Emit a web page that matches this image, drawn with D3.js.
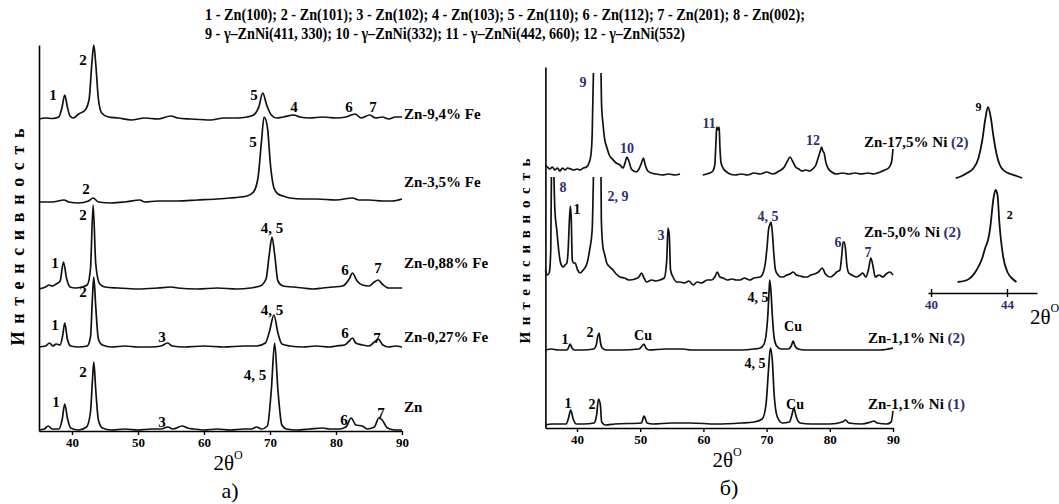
<!DOCTYPE html>
<html><head><meta charset="utf-8">
<script src="https://cdn.jsdelivr.net/npm/d3@7"></script>
<style>
body{margin:0;background:#fff}
svg{display:block}
text{font-family:"Liberation Serif","Times New Roman",serif}
</style>
</head><body>
<svg id="c" width="1059" height="504"></svg>
<script>
// ---------- DATA ----------
const titleLines = [
  "1 - Zn(100); 2 - Zn(101); 3 - Zn(102); 4 - Zn(103); 5 - Zn(110); 6 - Zn(112); 7 - Zn(201); 8 - Zn(002);",
  "9 - γ–ZnNi(411, 330); 10 -  γ–ZnNi(332); 11 - γ–ZnNi(442, 660); 12 - γ–ZnNi(552)"
];
const xTicks = [40, 50, 60, 70, 80, 90];
const insetTicks = [40, 44];
const yLabel = "Интенсивность";
const xLabel = "2θ";
const panelLetters = ["а)", "б)"];

// left panel (Zn-Fe)
const leftNames = ["Zn-9,4% Fe", "Zn-3,5% Fe", "Zn-0,88% Fe", "Zn-0,27% Fe", "Zn"];
const leftOffsets = [312, 229, 142, 84, 1];
const znFe94 = [[35,0],[36,1],[37,0.5],[38,2],[38.5,12],[38.9,24],[39.3,12],[39.7,3],[40.2,1],[41,5],[42,9],[42.6,20],[43,55],[43.3,74],[43.6,55],[44,20],[44.5,6],[45.5,2],[47,1],[49,-1],[51,1],[53,0],[55,3],[56,1],[58,0],[61,-1],[63,1],[65,1],[66.5,2],[67.5,4],[68.3,12],[68.9,26],[69.5,14],[70.2,4],[71,1],[72,2],[73.6,4],[74.5,2],[76,1],[78,2],[80,1],[81.5,2],[82.9,5],[83.8,1],[85.1,4],[86,1],[87,2],[88,0],[89,2],[90,2]];
const znFe35 = [[35,0],[37,0],[38.8,2],[39.5,0],[41,-1],[42.5,1],[43.2,4],[44,0],[46,-1],[48,0],[50.3,2],[51,0],[53,1],[56,1],[59,2],[62,3],[64,4],[65.5,5],[66.5,6],[67.5,10],[68.2,25],[68.7,60],[69.1,85],[69.6,75],[70.1,35],[70.6,14],[71.2,8],[72,6],[73,4],[75,3],[77,3],[80,2],[82.5,4],[83.5,2],[85,2],[87,1],[88.5,1],[90,3]];
const znFe088 = [[35,0],[36,2],[36.5,4],[37,3],[37.6,5],[38.2,8],[38.7,27],[39.2,10],[39.7,2],[40.5,1],[41.5,2],[42.3,4],[42.8,20],[43.2,84],[43.6,25],[44.2,5],[45,2],[47,1],[50,0],[53,1],[55,2],[56,1],[59,0],[62,1],[65,0],[67,1],[68.5,3],[69.4,10],[69.9,35],[70.3,52],[70.7,35],[71.2,8],[72,3],[73.5,2],[75,1],[76.5,0],[78,1],[79.5,2],[81,3],[82,10],[82.5,16],[83.2,8],[84,4],[85,3],[85.8,7],[86.4,9],[87,5],[88,1],[89,1],[90,1]];
const znFe027 = [[35,0],[36,1],[36.6,4],[37.1,1],[37.6,3],[38.2,2],[38.6,12],[38.9,24],[39.3,8],[39.8,1],[41,0],[42.3,1],[42.8,10],[43.1,50],[43.3,70],[43.6,40],[44,8],[44.6,2],[46,0],[48,1],[50,0],[52,0],[53.5,1],[54.5,4],[55.2,1],[57,0],[60,1],[63,0],[66,1],[68,1],[69.3,4],[69.9,15],[70.6,32],[71.2,14],[71.8,3],[73,1],[75,0],[77,1],[79,0],[80,1],[81.3,2],[82,6],[82.5,9],[83,4],[84,2],[85,1],[85.8,5],[86.4,8],[87.1,2],[88,0],[89,1],[90,0]];
const znPure = [[35,0],[35.8,1],[36.4,4],[37,1],[38,1],[38.5,10],[38.9,26],[39.3,12],[39.8,2],[41,0],[42.2,3],[42.8,18],[43.1,50],[43.3,68],[43.6,40],[44,10],[44.6,2],[46,0],[48,1],[50,0],[52,1],[53.5,1],[54.5,3],[55.3,1],[56.7,4],[57.5,2],[58.5,1],[60,0],[62,1],[64,0],[66,1],[67.2,1],[68,3],[68.7,1],[69.6,4],[70.2,40],[70.7,87],[71.2,40],[71.8,5],[72.5,1],[74,0],[76,1],[78,2],[79,1],[80.5,1],[81.5,3],[82.3,12],[83,5],[84,4],[84.7,1],[85.8,3],[86.5,12],[87,10],[87.8,2],[89,0],[90,0]];
const leftSeries = [znFe94, znFe35, znFe088, znFe027, znPure];
const leftPeakLabels = [
  [37.12,336,"1"],[41.67,371,"2"],[67.58,336,"5"],[73.64,324,"4"],[81.97,324,"6"],[85.61,324,"7"],
  [42.12,242,"2"],[67.42,289,"5"],
  [41.67,216,"2"],[70.30,203,"4, 5"],[37.42,168,"1"],[81.36,161,"6"],[86.36,163,"7"],
  [41.67,139,"2"],[37.42,106,"1"],[53.64,94,"3"],[70.30,121,"4, 5"],[81.36,98,"6"],[86.21,93,"7"],
  [41.67,59,"2"],[67.73,56,"4, 5"],[37.58,29,"1"],[53.64,9,"3"],[81.21,11,"6"],[86.82,18,"7"]
];
const leftNameY = [317, 249, 168, 94, 24];

// right panel (Zn-Ni)
const rightNames = [["Zn-17,5% Ni ","(2)"],["Zn-5,0% Ni ","(2)"],["Zn-1,1% Ni ","(2)"],["Zn-1,1% Ni ","(1)"]];
const rightOffsets = [253, 148, 78, 3];
const znNi175 = [[35,10],[35.3,8],[35.7,6],[36.1,8],[36.5,5],[36.9,7],[37.3,4],[37.7,7],[38.1,5],[38.5,7],[39,6],[39.5,5],[40,6],[40.5,5],[41,7],[41.5,8],[41.9,12],[42.2,20],[42.4,40],[42.6,102],null,[43.8,102],[43.9,68],[44.1,52],[44.4,35],[44.7,28],[45.1,20],[45.6,16],[46.2,12],[46.8,10],[47.3,7],[47.6,12],[47.9,18],[48.2,14],[48.6,6],[49,4],[49.4,3],[49.8,6],[50.2,12],[50.5,17],[50.8,10],[51.2,4],[51.8,2],[52.5,1],[53.5,0],[54.5,1],[55.5,0],[56.3,1],null,[59.9,0],[60.5,1],[61,2],[61.5,4],[61.8,10],[62.0,35],[62.1,48],[62.3,45],[62.5,48],[62.6,30],[62.8,12],[63.2,6],[63.7,3],[64.2,1],[65,0],[66,1],[67,0],[68,2],[69,1],[70,3],[71,1],[72,4],[72.8,8],[73.3,14],[73.7,18],[74.1,14],[74.6,8],[75.1,6],[75.6,4],[76.2,5],[76.8,4],[77.3,6],[77.8,10],[78.2,18],[78.5,24],[78.7,28],[78.9,24],[79.1,22],[79.4,12],[79.8,6],[80.3,3],[81,1],[82,2],[83,1],[84,2],[85,1],[86,2],[87,1],[88,3],[88.7,5],[89.3,7],[89.6,10],[89.8,14],[90,26]];
const znNi50 = [[35,10],[35.3,5],[35.6,7],[35.85,30],[35.95,103],null,[36.35,103],[36.5,70],[36.8,50],[37.1,30],[37.3,20],[37.6,14],[37.8,13],[38.1,15],[38.4,17],[38.6,30],[38.8,60],[38.95,74],[39.1,60],[39.25,20],[39.5,17],[39.7,17],[40.1,10],[40.5,7],[41,10],[41.6,17],[42.0,30],[42.4,50],[42.6,103],null,[43.8,103],[43.85,60],[44.1,33],[44.4,25],[44.7,17],[45.2,13],[45.7,10],[46.2,6],[46.8,3],[47.5,2],[48.3,0],[49.2,1],[49.8,3],[50.2,7],[50.6,2],[51,-2],[51.8,0],[52.5,-1],[53.1,0],[53.8,2],[54.2,20],[54.4,52],[54.6,45],[54.8,10],[55.2,3],[55.8,-2],[56.3,-2],[57,-3],[57.7,-1],[58.4,-5],[59,-2],[59.7,-3],[60.6,0],[61.3,0],[61.8,3],[62.2,8],[62.6,3],[63.1,2],[63.8,0],[64.5,1],[65.2,0],[65.8,0],[66.5,2],[67.3,0],[68,2],[69,3],[69.5,8],[69.8,17],[70.1,35],[70.3,50],[70.5,55],[70.7,58],[70.9,48],[71.1,30],[71.4,10],[71.8,5],[72.3,3],[72.6,3],[73.2,5],[73.7,6],[74.2,8],[74.7,5],[75.3,4],[76,3],[76.4,3],[77,5],[77.6,6],[78.2,8],[78.8,12],[79.3,6],[80.1,3],[80.6,5],[81.1,8],[81.6,10],[81.9,25],[82.1,38],[82.3,38],[82.5,30],[82.7,15],[83,7],[83.5,5],[84.3,3],[84.8,5],[85.2,7],[85.7,3],[86.1,10],[86.5,22],[86.8,15],[87.2,3],[87.8,5],[88.4,3],[88.9,6],[89.5,8],[90,5]];
const znNi11b = [[35,0],[36,1],[37,0],[38.4,0],[38.7,3],[38.9,6],[39.2,2],[39.6,0],[41,0],[42.6,1],[43.0,4],[43.3,14],[43.5,17],[43.7,8],[44,2],[44.6,0],[47,0],[49.8,1],[50.3,4],[50.6,6],[50.9,2],[51.4,0],[54,1],[56.8,1],[58,0],[62,0],[66,0],[68,1],[69,2],[69.6,6],[69.9,14],[70.2,35],[70.4,60],[70.5,70],[70.7,58],[70.9,35],[71.2,12],[71.6,4],[72.3,1],[73.4,1],[73.9,4],[74.2,9],[74.5,4],[75,1],[76,0],[80,0],[85,0],[88,0],[90,2]];
const znNi11a = [[35,0],[36,1],[38.3,1],[38.7,8],[39,15],[39.4,6],[39.9,1],[41,1],[42.7,2],[43.1,10],[43.4,26],[43.7,20],[43.9,3],[44.5,0],[46,1],[50.2,2],[50.6,9],[51.1,2],[52,1],[55,2],[58,2],[62,1],[66,2],[68,3],[69.3,6],[69.9,20],[70.3,55],[70.6,77],[70.9,65],[71.2,30],[71.7,8],[72.5,2],[73.6,3],[74.0,10],[74.3,17],[74.7,8],[75.3,2],[77,1],[80,1],[82,3],[82.5,5],[83,2],[85,1],[86.5,3],[87,4],[87.5,2],[89,1],[89.7,3],[90,14]];
const rightSeries = [znNi175, znNi50, znNi11b, znNi11a];
const rightPeakLabels = [
  [40.95,346,"9",1],[47.91,280,"10",1],[60.89,305,"11",1],[77.34,288,"12",1],
  [37.78,241,"8",1],[40.0,219,"1",0],[46.49,232,"2, 9",1],[53.29,193,"3",1],[70.22,212,"4, 5",1],[81.30,186,"6",1],[86.04,176,"7",1],
  [68.64,131,"4, 5",0],[74.18,102,"Cu",0],[38.1,89,"1",0],[42.06,96,"2",0],[50.44,93,"Cu",0],
  [68.16,65,"4, 5",0],[38.58,25,"1",0],[42.37,24,"2",0],[74.49,24,"Cu",0]
];
const rightNameY = [286, 196, 90, 24];

// inset (peaks 9 and 2)
const insetOffsets = [115, 11];
const insetPeak9 = [[41.3,0],[41.5,1],[41.9,5],[42.2,9],[42.5,20],[42.7,38],[42.85,58],[43.0,71],[43.15,60],[43.3,40],[43.45,24],[43.6,14],[43.8,8],[44.2,4],[44.5,2],[44.8,0]];
const insetPeak2 = [[41.4,0],[41.9,2],[42.4,12],[42.7,24],[42.85,34],[43.0,42],[43.1,52],[43.3,85],[43.4,92],[43.5,87],[43.6,59],[43.8,25],[44.05,9],[44.3,3],[44.5,0]];
const insetLabels = [[42.5,186,"9"],[44.15,78,"2"]];

// ---------- DRAW ----------
const svg = d3.select("#c");
const NAVY = "#2e2e72";

svg.selectAll("text.title").data(titleLines).enter().append("text")
  .attr("x", 205).attr("y", (d,i)=> 20 + i*19)
  .attr("font-size", 16).attr("font-weight", "bold")
  .attr("textLength", (d,i)=> i===0 ? 600 : 480).attr("lengthAdjust","spacingAndGlyphs")
  .text(d=>d);

function panel(opt){
  const g = svg.append("g");
  const x = d3.scaleLinear().domain([35,90]).range(opt.xr);
  const y = d3.scaleLinear().domain([0, opt.yTop]).range([opt.yb, opt.yb - opt.yTop]);
  const ax = g.append("g").attr("transform",`translate(0,${opt.yb})`)
    .call(d3.axisBottom(x).tickValues(xTicks).tickFormat(d3.format("d")).tickSize(4).tickSizeOuter(0).tickPadding(3));
  ax.select(".domain").attr("stroke","#000").attr("stroke-width",1.6);
  ax.selectAll(".tick line").attr("stroke","#000").attr("stroke-width",1.4);
  ax.selectAll(".tick text").attr("font-family","Liberation Serif, serif").attr("font-weight","bold").attr("font-size",13).attr("fill","#000");
  const ay = g.append("g").attr("transform",`translate(${opt.xr[0]},0)`)
    .call(d3.axisLeft(y).tickValues([]).tickSizeOuter(0));
  ay.select(".domain").attr("stroke","#000").attr("stroke-width",1.6);
  const line = d3.line().defined(d=>d!==null).x(d=>x(d[0])).y(d=>y(d[1]+d.off)).curve(d3.curveMonotoneX);
  opt.series.forEach((s,i)=>{
    const pts = s.map(p=>{ if(p===null) return null; const q=[p[0],p[1]]; q.off=opt.offsets[i]; return q;});
    g.append("path").attr("d", line(pts)).attr("fill","none").attr("stroke","#111").attr("stroke-width",1.7).attr("stroke-linejoin","round");
  });
  g.selectAll("text.pk").data(opt.labels).enter().append("text")
    .attr("x",d=>x(d[0])).attr("y",d=>y(d[1])).attr("dy","0.35em")
    .attr("text-anchor","middle").attr("font-weight","bold").attr("font-size",opt.lfs)
    .attr("fill",d=> d[3]===1 ? NAVY : "#000").text(d=>d[2]);
  const xt = g.append("text").attr("x", opt.xlab).attr("y", opt.yb+39).attr("text-anchor","middle").attr("font-size",21);
  xt.append("tspan").text(xLabel);
  xt.append("tspan").attr("dy",-11).attr("font-size",12).text("O");
  g.append("text").attr("x",opt.xlab+2).attr("y",opt.yb+67).attr("text-anchor","middle").attr("font-size",22).text(opt.letter);
  g.append("text").attr("transform",`translate(${opt.ylx},${opt.yly}) rotate(-90)`)
    .attr("text-anchor","middle").attr("dy","0.35em").attr("font-weight","bold").attr("font-size",opt.yfs)
    .attr("textLength",opt.ylen).attr("lengthAdjust","spacing").text(yLabel);
  return {g,x,y};
}

const L = panel({xr:[39,402], yb:431, yTop:386, series:leftSeries, offsets:leftOffsets, labels:leftPeakLabels, lfs:15,
  xlab:228, letter:panelLetters[0], ylx:18, yly:237, yfs:18, ylen:217});
L.g.selectAll("text.nm").data(leftNames).enter().append("text")
  .attr("x", L.x(90)+2).attr("y",(d,i)=>L.y(leftNameY[i])).attr("dy","0.35em")
  .attr("font-weight","bold").attr("font-size",15).text(d=>d);

const R = panel({xr:[545.4,893], yb:428, yTop:361, series:rightSeries, offsets:rightOffsets, labels:rightPeakLabels, lfs:14,
  xlab:727, letter:panelLetters[1], ylx:525, yly:251, yfs:15, ylen:185});
rightNames.forEach((n,i)=>{
  const t = R.g.append("text").attr("x", R.x(90)-29+ (i>1?4:0)).attr("y", R.y(rightNameY[i])).attr("dy","0.35em")
    .attr("font-weight","bold").attr("font-size",15);
  t.append("tspan").text(n[0]);
  t.append("tspan").attr("fill",NAVY).text(n[1]);
});

// inset
const xI = d3.scaleLinear().domain([39.84,45.58]).range([928,1037]);
const yI = d3.scaleLinear().domain([0,200]).range([293,93]);
const gi = svg.append("g");
const axI = gi.append("g").attr("transform","translate(0,293)")
  .call(d3.axisBottom(xI).tickValues(insetTicks).tickFormat(d3.format("d")).tickSize(4).tickSizeOuter(0).tickPadding(3));
axI.select(".domain").attr("stroke","#000").attr("stroke-width",1.6);
axI.selectAll(".tick line").attr("stroke","#000").attr("stroke-width",1.4).attr("y1",-4);
axI.selectAll(".tick text").attr("font-family","Liberation Serif, serif").attr("font-weight","bold").attr("font-size",13).attr("fill",NAVY);
const lineI = d3.line().x(d=>xI(d[0])).y(d=>yI(d[1]+d.off)).curve(d3.curveMonotoneX);
[insetPeak9, insetPeak2].forEach((s,i)=>{
  const pts = s.map(p=>{const q=[p[0],p[1]]; q.off=insetOffsets[i]; return q;});
  gi.append("path").attr("d",lineI(pts)).attr("fill","none").attr("stroke","#111").attr("stroke-width",1.8);
});
gi.selectAll("text.il").data(insetLabels).enter().append("text")
  .attr("x",d=>xI(d[0])).attr("y",d=>yI(d[1])).attr("dy","0.35em").attr("text-anchor","middle")
  .attr("font-weight","bold").attr("font-size",12).text(d=>d[2]);
const xtI = gi.append("text").attr("x",1030).attr("y",324).attr("font-size",21);
xtI.append("tspan").text(xLabel);
xtI.append("tspan").attr("dy",-12).attr("font-size",12).text("O");
</script>
</body></html>
